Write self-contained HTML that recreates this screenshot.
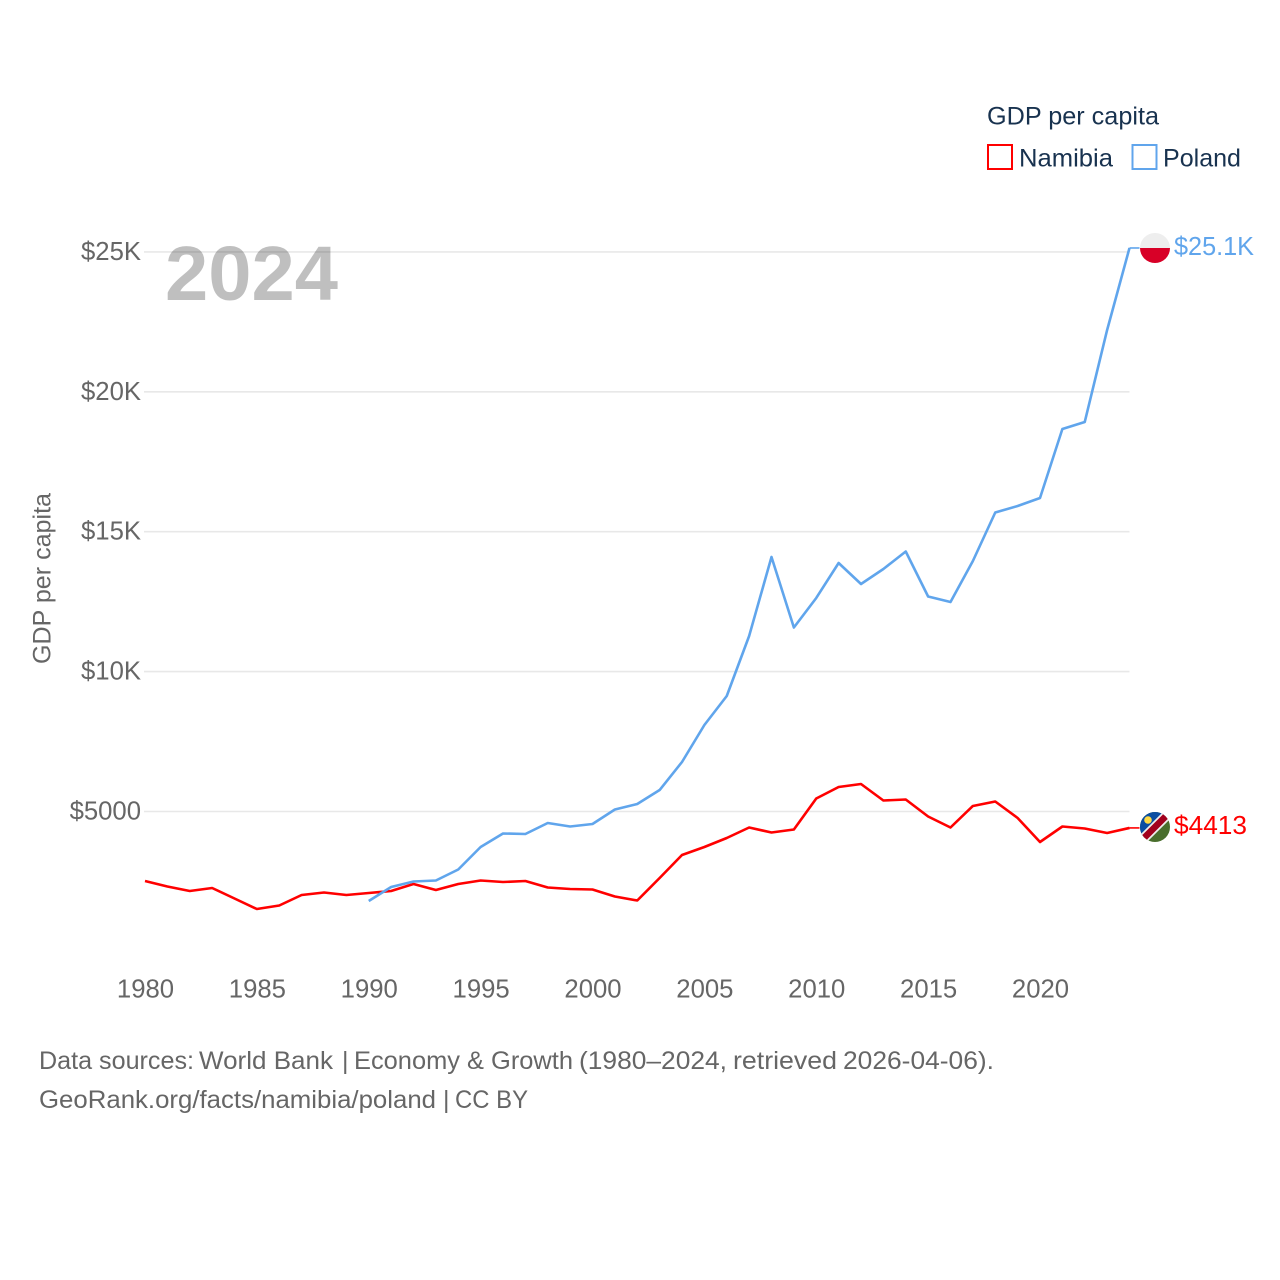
<!DOCTYPE html>
<html lang="en">
<head>
<meta charset="utf-8">
<title>GDP per capita: Namibia and Poland</title>
<style>
html,body{margin:0;padding:0;background:#fff;width:1280px;height:1280px;overflow:hidden}
svg{display:block;font-family:"Liberation Sans",sans-serif}
</style>
</head>
<body>
<svg id="chart" xmlns="http://www.w3.org/2000/svg" width="1280" height="1280" viewBox="0 0 1280 1280">
  <defs>
    <clipPath id="flag-clip-pl"><circle cx="1155" cy="248" r="15"/></clipPath>
    <clipPath id="flag-clip-na"><circle cx="1155" cy="827" r="15"/></clipPath>
  </defs>
  <rect x="0" y="0" width="1280" height="1280" fill="#ffffff"/>
  <g id="grid"></g>
  <g id="yticks"></g>
  <g id="xticks"></g>
  <text x="165" y="300" font-size="77" font-weight="700" fill="#000000" fill-opacity="0.25" textLength="173" lengthAdjust="spacingAndGlyphs">2024</text>
  <text transform="translate(50.500 578.5) rotate(-90)" text-anchor="middle" font-size="25" fill="#666666" textLength="171" lengthAdjust="spacingAndGlyphs">GDP per capita</text>
  <g id="series"></g>

  <g clip-path="url(#flag-clip-pl)">
    <rect x="1140" y="233" width="30" height="15" fill="#eeeeee"/>
    <rect x="1140" y="248" width="30" height="15" fill="#d80027"/>
  </g>
  <g clip-path="url(#flag-clip-na)">
    <rect x="1140" y="812" width="30" height="30" fill="#496e2d"/>
    <polygon points="1140,812 1170,812 1140,842" fill="#0b4ea2"/>
    <line x1="1141" y1="841" x2="1169" y2="813" stroke="#eeeeee" stroke-width="10"/>
    <line x1="1141" y1="841" x2="1169" y2="813" stroke="#a2001d" stroke-width="6.500"/>
    <circle cx="1148" cy="820" r="3.800" fill="#ffda44"/>
  </g>
  <text x="1174" y="255" font-size="25.5" fill="#60a5ec" textLength="80" lengthAdjust="spacingAndGlyphs">$25.1K</text>
  <text x="1174" y="834" font-size="25.5" fill="#ff0000" textLength="73" lengthAdjust="spacingAndGlyphs">$4413</text>

  <g>
    <text x="987" y="124.500" font-size="25" fill="#18324f" textLength="172" lengthAdjust="spacingAndGlyphs">GDP per capita</text>
    <rect x="988" y="145" width="24" height="24" fill="none" stroke="#ff0000" stroke-width="2"/>
    <text x="1019" y="166.500" font-size="25" fill="#18324f" textLength="94" lengthAdjust="spacingAndGlyphs">Namibia</text>
    <rect x="1132.500" y="145" width="24" height="24" fill="none" stroke="#60a5ec" stroke-width="2"/>
    <text x="1163" y="166.500" font-size="25" fill="#18324f" textLength="78" lengthAdjust="spacingAndGlyphs">Poland</text>
  </g>

  <text y="1069" font-size="25" fill="#666666" lengthAdjust="spacingAndGlyphs"><tspan x="39" textLength="155" lengthAdjust="spacingAndGlyphs">Data sources:</tspan> <tspan x="199" textLength="134" lengthAdjust="spacingAndGlyphs">World Bank</tspan> <tspan x="342">|</tspan> <tspan x="354" textLength="219" lengthAdjust="spacingAndGlyphs">Economy &amp; Growth</tspan> <tspan x="579" textLength="148" lengthAdjust="spacingAndGlyphs">(1980–2024,</tspan> <tspan x="733" textLength="104" lengthAdjust="spacingAndGlyphs">retrieved</tspan> <tspan x="843" textLength="151" lengthAdjust="spacingAndGlyphs">2026-04-06).</tspan></text>
  <text y="1108" font-size="25" fill="#666666"><tspan x="39" textLength="397" lengthAdjust="spacingAndGlyphs">GeoRank.org/facts/namibia/poland</tspan> <tspan x="443">|</tspan> <tspan x="455" textLength="73" lengthAdjust="spacingAndGlyphs">CC BY</tspan></text>
</svg>

<script>
const years = [1980,1981,1982,1983,1984,1985,1986,1987,1988,1989,1990,1991,1992,1993,1994,1995,1996,1997,1998,1999,2000,2001,2002,2003,2004,2005,2006,2007,2008,2009,2010,2011,2012,2013,2014,2015,2016,2017,2018,2019,2020,2021,2022,2023,2024];
const namibiaValues = [2516,2320,2159,2266,1891,1515,1640,2016,2105,2016,2087,2159,2409,2194,2409,2534,2480,2516,2284,2230,2212,1962,1819,2623,3445,3731,4053,4428,4249,4357,5465,5876,5983,5393,5429,4821,4428,5197,5357,4768,3910,4464,4392,4232,4413];
const polandValues = [null,null,null,null,null,null,null,null,null,null,1801,2302,2498,2534,2927,3731,4214,4196,4589,4464,4553,5072,5268,5768,6769,8092,9128,11272,14096,11576,12631,13881,13131,13667,14292,12684,12487,13953,15686,15919,16205,18670,18921,22209,25140];
const yTickValues = [5000,10000,15000,20000,25000];
const yTickLabels = ["$5000","$10K","$15K","$20K","$25K"];
const xTickValues = [1980,1985,1990,1995,2000,2005,2010,2015,2020];
const xTickLabels = ["1980","1985","1990","1995","2000","2005","2010","2015","2020"];

const NS = "http://www.w3.org/2000/svg";
function xScale(year){ return 145 + (year - 1980) * 22.375; }
function yScale(value){ return 951.4 - value * 0.02798; }

const gridGroup = document.getElementById("grid");
const yTickGroup = document.getElementById("yticks");
const xTickGroup = document.getElementById("xticks");
const seriesGroup = document.getElementById("series");

yTickValues.forEach(function(value, i){
  const line = document.createElementNS(NS, "line");
  
  
  line.setAttribute("x1", 144);
  line.setAttribute("x2", xScale(2024));
  line.setAttribute("y1", yScale(value));
  line.setAttribute("y2", yScale(value));
  line.setAttribute("stroke", "#e8e8e8");
  line.setAttribute("stroke-width", "1.6");
  gridGroup.appendChild(line);

  const label = document.createElementNS(NS, "text");
  
  
  label.setAttribute("x", 141);
  label.setAttribute("y", yScale(value) + 8);
  label.setAttribute("text-anchor", "end");
  label.setAttribute("font-size", "25.7");
  label.setAttribute("fill", "#666666");
  label.textContent = yTickLabels[i];
  yTickGroup.appendChild(label);
});

xTickValues.forEach(function(value, i){
  const label = document.createElementNS(NS, "text");
  
  
  label.setAttribute("x", xScale(value) + 0.5);
  label.setAttribute("y", 997.5);
  label.setAttribute("text-anchor", "middle");
  label.setAttribute("font-size", "25.7");
  label.setAttribute("fill", "#666666");
  label.textContent = xTickLabels[i];
  xTickGroup.appendChild(label);
});

function drawSeries(values, color, name){
  const pts = [];
  values.forEach(function(v, i){
    if (v !== null) pts.push(xScale(years[i]).toFixed(2) + "," + yScale(v).toFixed(2));
  });
  const last = values[values.length - 1];
  const path = document.createElementNS(NS, "polyline");
  
  
  path.setAttribute("points", pts.join(" "));
  path.setAttribute("fill", "none");
  path.setAttribute("stroke", color);
  path.setAttribute("stroke-width", "2.6");
  path.setAttribute("stroke-linejoin", "round");
  seriesGroup.appendChild(path);

  const connector = document.createElementNS(NS, "line");
  
  
  connector.setAttribute("x1", xScale(2024));
  connector.setAttribute("x2", xScale(2024) + 10);
  connector.setAttribute("y1", yScale(last));
  connector.setAttribute("y2", yScale(last));
  connector.setAttribute("stroke", color);
  connector.setAttribute("stroke-width", "1.6");
  seriesGroup.appendChild(connector);
}
drawSeries(namibiaValues, "#ff0000", "namibia-line");
drawSeries(polandValues, "#60a5ec", "poland-line");
</script>
</body>
</html>
